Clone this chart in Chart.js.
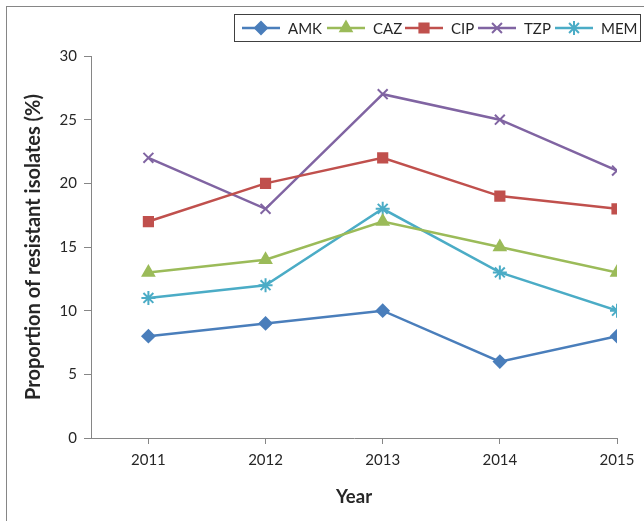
<!DOCTYPE html>
<html>
<head>
<meta charset="utf-8">
<script src="https://cdn.jsdelivr.net/npm/chart.js@4"></script>
<style>
  html, body { margin: 0; padding: 0; background: #fff; }
  #wrap { width: 644px; height: 521px; position: relative; }
</style>
</head>
<body>
<div id="wrap"><canvas id="chart"></canvas></div>
<script>
// 年と各抗菌薬の耐性率(%)
const years = [2011, 2012, 2013, 2014, 2015];
const amk = [8, 9, 10, 6, 8];
const caz = [13, 14, 17, 15, 13];
const cip = [17, 20, 22, 19, 18];
const tzp = [22, 18, 27, 25, 21];
const mem = [11, 12, 18, 13, 10];
const yTicks = [0, 5, 10, 15, 20, 25, 30];

const FONT = 'Lato, "Open Sans", sans-serif';
const AXIS = '#868686';
const TEXT = '#262626';

const series = [
  { label: 'AMK', data: amk, color: '#4a7ebb', style: 'rectRot', r: 6 },
  { label: 'CAZ', data: caz, color: '#9bbb59', style: 'triangle', r: 6.5 },
  { label: 'CIP', data: cip, color: '#c0504d', style: 'rect', r: 6.5 },
  { label: 'TZP', data: tzp, color: '#8064a2', style: 'crossRot', r: 7 },
  { label: 'MEM', data: mem, color: '#4bacc6', style: 'star', r: 7 }
];
// 凡例の各項目の開始位置
const legendX = [242, 327, 405, 478, 555];

// 外枠と凡例（ボックス付き）
const frameLegend = {
  id: 'frameLegend',
  afterDraw(chart) {
    const ctx = chart.ctx;
    ctx.save();
    ctx.strokeStyle = AXIS;
    ctx.lineWidth = 1;
    ctx.strokeRect(6.5, 6.5, 800, 800);

    ctx.strokeStyle = '#404040';
    ctx.strokeRect(234.5, 14.5, 406, 27);

    ctx.font = '15px ' + FONT;
    ctx.textBaseline = 'middle';
    const cy = 28;
    chart.data.datasets.forEach((ds, i) => {
      const x = legendX[i];
      ctx.strokeStyle = ds.borderColor;
      ctx.fillStyle = ds.borderColor;
      ctx.lineWidth = 2.5;
      ctx.beginPath();
      ctx.moveTo(x, cy);
      ctx.lineTo(x + 38, cy);
      ctx.stroke();
      ctx.lineWidth = 2;
      Chart.helpers.drawPoint(ctx, {
        pointStyle: ds.pointStyle, radius: ds.pointRadius, borderWidth: 2
      }, x + 19, cy);
      ctx.fillStyle = TEXT;
      ctx.fillText(ds.label, x + 46, cy + 1);
    });
    ctx.restore();
  }
};

const datasets = series.map(s => ({
  label: s.label,
  data: years.map((y, i) => ({ x: y, y: s.data[i] })),
  borderColor: s.color,
  backgroundColor: s.color,
  pointBackgroundColor: s.color,
  pointBorderColor: s.color,
  pointStyle: s.style,
  pointRadius: s.r,
  pointHoverRadius: s.r,
  pointBorderWidth: 2,
  borderWidth: 2.5,
  tension: 0
}));

new Chart(document.getElementById('chart'), {
  type: 'line',
  data: { datasets },
  options: {
    responsive: true, maintainAspectRatio: false, animation: false,
    layout: { padding: { left: 0, right: 27, top: 56, bottom: 0 } },
    plugins: { legend: { display: false }, tooltip: { enabled: false } },
    scales: {
      x: {
        type: 'linear', min: 2010.51, max: 2015,
        afterBuildTicks: s => { s.ticks = years.map(v => ({ value: v })); },
        afterFit: s => { s.height = 83; },
        grid: { display: true, drawOnChartArea: false, drawTicks: true, tickLength: 6, color: AXIS },
        border: { display: true, color: AXIS, width: 1 },
        ticks: { color: TEXT, font: { family: FONT, size: 15 }, padding: 7, callback: v => String(v) },
        title: { display: true, text: 'Year', color: TEXT, font: { family: FONT, size: 18.5, weight: 'bold' }, padding: { bottom: 13, top: 0 } }
      },
      y: {
        min: 0, max: 30,
        afterBuildTicks: s => { s.ticks = yTicks.map(v => ({ value: v })); },
        afterFit: s => { s.width = 91; },
        grid: { display: true, drawOnChartArea: false, drawTicks: true, tickLength: 7, color: AXIS },
        border: { display: true, color: AXIS, width: 1 },
        ticks: { color: TEXT, font: { family: FONT, size: 15 }, padding: 7 },
        title: { display: true, text: 'Proportion of resistant isolates (%)', color: TEXT, font: { family: FONT, size: 20, weight: 'bold' }, padding: { top: 22, bottom: 0 } }
      }
    }
  },
  plugins: [frameLegend]
});
</script>
</body>
</html>
